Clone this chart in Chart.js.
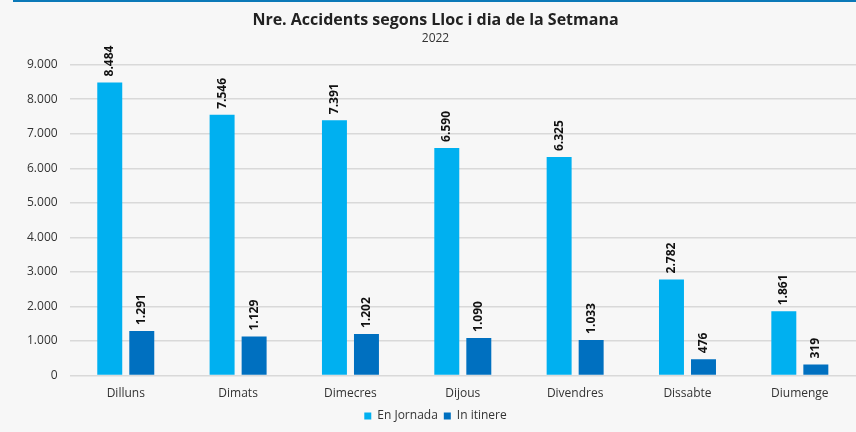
<!DOCTYPE html>
<html>
<head>
<meta charset="utf-8">
<script src="https://cdn.jsdelivr.net/npm/chart.js@4.4.1/dist/chart.umd.min.js"></script>
<style>
  html, body { margin: 0; padding: 0; background: #f7f7f7; }
  #wrap { position: relative; width: 856px; height: 432px; background: #f7f7f7; }
  #topline { position: absolute; left: 13px; right: 0; top: 0; height: 2px; background: #0b79b8; }
</style>
</head>
<body>
<div id="wrap">
  <div id="topline"></div>
  <canvas id="accChart"></canvas>
</div>
<script>
const days = ["Dilluns", "Dimats", "Dimecres", "Dijous", "Divendres", "Dissabte", "Diumenge"];
const enJornada = [8484, 7546, 7391, 6590, 6325, 2782, 1861];
const inItinere = [1291, 1129, 1202, 1090, 1033, 476, 319];
const yTicks = [0, 1000, 2000, 3000, 4000, 5000, 6000, 7000, 8000, 9000];

function fmt(n) {
    return String(n).replace(/\B(?=(\d{3})+(?!\d))/g, ".");
}

// draws the rotated value above each bar
const barValues = {
    id: "barValues",
    afterDatasetsDraw(chart) {
        const ctx = chart.ctx;
        ctx.save();
        ctx.font = "bold 12px 'Open Sans', sans-serif";
        ctx.fillStyle = "#111";
        ctx.textAlign = "left";
        ctx.textBaseline = "middle";
        chart.data.datasets.forEach((ds, i) => {
            chart.getDatasetMeta(i).data.forEach((bar, j) => {
                ctx.save();
                ctx.translate(bar.x, bar.y - 6);
                ctx.rotate(-Math.PI / 2);
                ctx.fillText(fmt(ds.data[j]), 0, 0);
                ctx.restore();
            });
        });
        ctx.restore();
    }
};

const ctx = document.getElementById("accChart");

new Chart(ctx, {
    type: "bar",
    data: {
        labels: days,
        datasets: [
            {
                label: "En Jornada",
                data: enJornada,
                backgroundColor: "#00b0f0",
                categoryPercentage: 0.57,
                barPercentage: 0.78
            },
            {
                label: "In itinere",
                data: inItinere,
                backgroundColor: "#0070c0",
                categoryPercentage: 0.57,
                barPercentage: 0.78
            }
        ]
    },
    options: {
        responsive: true,
        maintainAspectRatio: false,
        animation: false,
        layout: {
            padding: { left: 15, right: 0, top: 8, bottom: 0 }
        },
        plugins: {
            title: {
                display: true,
                text: "Nre. Accidents segons Lloc i dia de la Setmana",
                color: "#222",
                font: { family: "'Open Sans', sans-serif", size: 16, weight: "bold" },
                padding: { top: 3, bottom: 1 }
            },
            subtitle: {
                display: true,
                text: "2022",
                color: "#333",
                font: { family: "'Open Sans', sans-serif", size: 12 },
                padding: { bottom: 19 }
            },
            legend: {
                position: "bottom",
                labels: {
                    boxWidth: 7,
                    boxHeight: 7,
                    padding: 6,
                    color: "#333",
                    font: { family: "'Open Sans', sans-serif", size: 12 }
                }
            },
            tooltip: { enabled: false }
        },
        scales: {
            x: {
                grid: { display: false },
                border: { display: false },
                ticks: {
                    color: "#333",
                    font: { family: "'Open Sans', sans-serif", size: 12 },
                    padding: 3
                }
            },
            y: {
                min: 0,
                max: 9000,
                afterBuildTicks(axis) {
                    axis.ticks = yTicks.map(v => ({ value: v }));
                },
                grid: { color: "#d9d9d9", drawTicks: false, lineWidth: 1.5 },
                border: { display: false },
                ticks: {
                    color: "#333",
                    padding: 12,
                    font: { family: "'Open Sans', sans-serif", size: 12 },
                    callback: v => fmt(v)
                }
            }
        }
    },
    plugins: [barValues]
});
</script>
</body>
</html>
